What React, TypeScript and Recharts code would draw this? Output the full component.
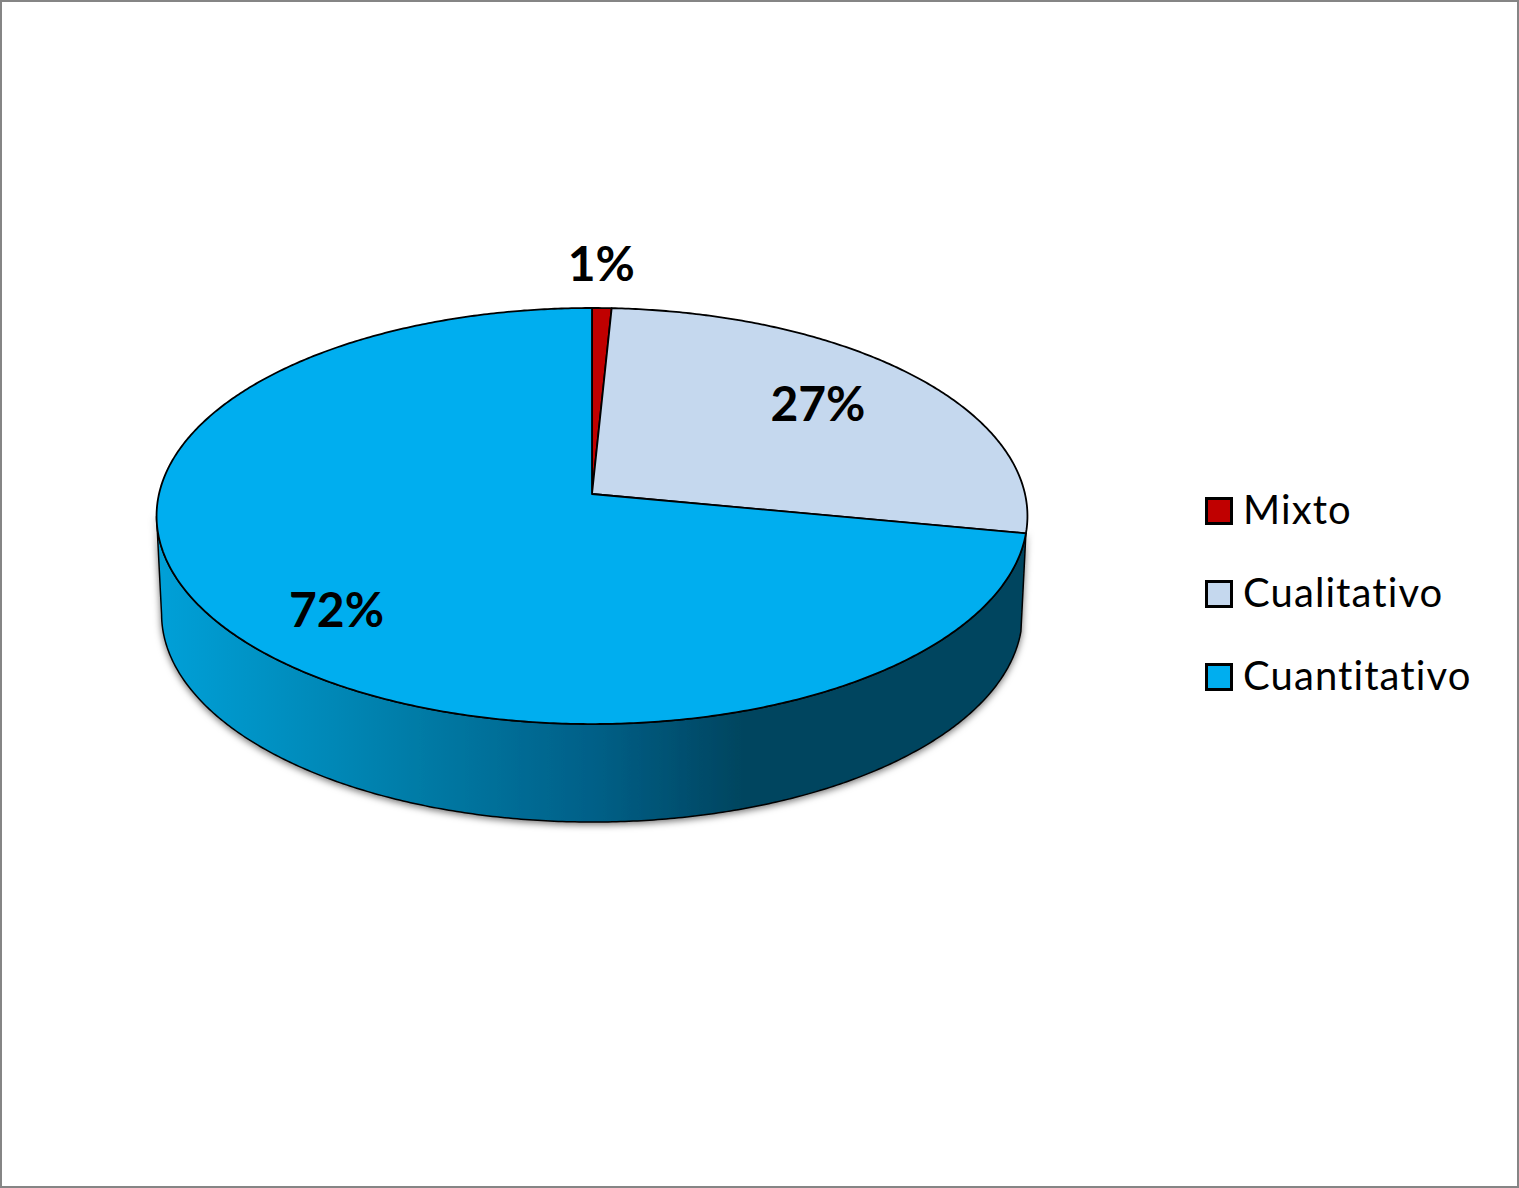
import React from "react";
import { PieChart, Pie, Legend } from "recharts";

const categories = ["Mixto", "Cualitativo", "Cuantitativo"];
const shares = [0.8, 27.2, 72];
const shareLabels = ["1%", "27%", "72%"];
const colors = ["#C00000", "#C5D8EE", "#00AEEF"];
const rows = categories.map((name, i) => ({ name, value: shares[i], fill: colors[i] }));

const W = 1519;
const H = 1188;
const CX = 592;
const CY = 494;
const RX = 433;
const YSCALE = 205.7 / 433;
const K = -0.1058;
const DEPTH = 98;
const WALL_SHRINK = 428 / 433;
const RIM_V_MIN = 0.106;
const labelR = [1.275, 0.755, 0.825];
const labelDx = [-3, -19, 36];
const FONT = "Lato, 'Open Sans', sans-serif";

// project a point of the flat disc (clock angle from the top, in degrees; radius fraction r) onto the tilted view
function project(cx: number, cy: number, R: number, clockDeg: number, r: number) {
  const a = (clockDeg * Math.PI) / 180;
  const x = r * Math.sin(a);
  const v = -r * Math.cos(a);
  const d = 1 + K * v;
  return { x: cx + (R * x) / d, y: cy + (R * YSCALE * v) / d, v };
}

function rim(cx: number, cy: number, R: number, from: number, to: number) {
  const pts = [];
  const steps = Math.max(2, Math.ceil(to - from) * 2);
  for (let i = 0; i <= steps; i++) pts.push(project(cx, cy, R, from + ((to - from) * i) / steps, 1));
  return pts;
}

function TopFace(p: any) {
  const from = 90 - p.startAngle;
  const to = 90 - p.endAngle;
  const pts = rim(p.cx, p.cy, p.outerRadius, from, to);
  const d = `M${p.cx},${p.cy} ` + pts.map((q) => `L${q.x.toFixed(2)},${q.y.toFixed(2)}`).join(" ") + " Z";
  return <path d={d} fill={p.fill} stroke="#000" strokeWidth={1.8} strokeLinejoin="round" />;
}

function Wall(p: any) {
  if (p.index !== categories.length - 1) return <g />;
  const from = 90 - p.startAngle;
  const to = 90 - p.endAngle;
  const pts = rim(p.cx, p.cy, p.outerRadius, from, to).filter((q) => q.v >= RIM_V_MIN);
  const top = pts.map((q) => `${q.x.toFixed(2)},${q.y.toFixed(2)}`);
  const bottom = pts
    .slice()
    .reverse()
    .map((q) => `${(p.cx + (q.x - p.cx) * WALL_SHRINK).toFixed(2)},${(q.y + DEPTH).toFixed(2)}`);
  return (
    <g>
      <defs>
        <linearGradient id="wallShade" gradientUnits="userSpaceOnUse" x1={CX - RX} y1="0" x2={CX + RX} y2="0">
          <stop offset="0" stopColor="#00A0D8" />
          <stop offset="0.12" stopColor="#0092C4" />
          <stop offset="0.3" stopColor="#007BA6" />
          <stop offset="0.5" stopColor="#006088" />
          <stop offset="0.68" stopColor="#00445E" />
          <stop offset="1" stopColor="#00445E" />
        </linearGradient>
        <filter id="wallShadow" x="-3%" y="-5%" width="106%" height="115%">
          <feDropShadow dx="0" dy="2" stdDeviation="3.5" floodColor="#000" floodOpacity="0.55" />
        </filter>
      </defs>
      <polygon
        points={[...top, ...bottom].join(" ")}
        fill="url(#wallShade)"
        stroke="#000"
        strokeWidth={1.5}
        strokeLinejoin="round"
        filter="url(#wallShadow)"
      />
    </g>
  );
}

function PctLabel(p: any) {
  const i = p.index;
  const q = project(p.cx, p.cy, p.outerRadius, 90 - p.midAngle, labelR[i]);
  return (
    <text
      x={q.x + labelDx[i]}
      y={q.y}
      textAnchor="middle"
      dominantBaseline="central"
      fontFamily={FONT}
      fontWeight={700}
      fontSize={48}
      fill="#000"
      style={{ fontVariantLigatures: "none" }}
    >
      {shareLabels[i]}
    </text>
  );
}

function LegendBox({ payload }: any) {
  const items = categories
    .map((name) => (payload || []).find((e: any) => e.value === name))
    .filter(Boolean);
  return (
    <div style={{ fontFamily: FONT, fontSize: 40, color: "#000", fontVariantLigatures: "none", letterSpacing: 1.1 }}>
      {items.map((e: any) => (
        <div key={e.value} style={{ display: "flex", alignItems: "center", height: 83 }}>
          <span
            style={{
              display: "block",
              boxSizing: "border-box",
              width: 28,
              height: 28,
              border: "3px solid #000",
              background: e.color,
              marginRight: 10,
            }}
          />
          <span style={{ position: "relative", top: -2 }}>{e.value}</span>
        </div>
      ))}
    </div>
  );
}

export default function App() {
  return (
    <div
      style={{
        position: "absolute",
        left: 0,
        top: 0,
        width: W,
        height: H,
        background: "#fff",
        boxShadow: "inset 0 0 0 2px #858585",
        overflow: "hidden",
      }}
    >
      <PieChart width={W} height={H} margin={{ top: 0, right: 0, bottom: 0, left: 0 }}>
        <Pie
          data={rows}
          dataKey="value"
          nameKey="name"
          cx={CX}
          cy={CY}
          outerRadius={RX}
          startAngle={90}
          endAngle={-270}
          isAnimationActive={false}
          legendType="none"
          shape={Wall}
          stroke="none"
        />
        <Pie
          data={rows}
          dataKey="value"
          nameKey="name"
          cx={CX}
          cy={CY}
          outerRadius={RX}
          startAngle={90}
          endAngle={-270}
          isAnimationActive={false}
          shape={TopFace}
          label={PctLabel}
          labelLine={false}
        />
        <Legend
          layout="vertical"
          content={<LegendBox />}
          wrapperStyle={{ position: "absolute", left: 1205, top: 469, width: 300, bottom: "auto", right: "auto" }}
        />
      </PieChart>
    </div>
  );
}
